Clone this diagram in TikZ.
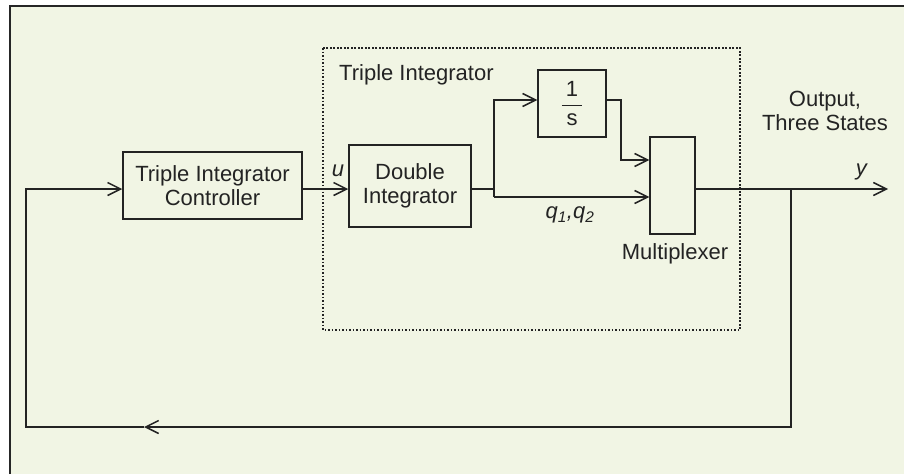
\documentclass[tikz,border=0pt]{standalone}
\usepackage{amsmath}
\usepackage{fontspec}
\setmainfont{Liberation Sans}
\usetikzlibrary{arrows.meta}
\definecolor{bgc}{RGB}{241,245,228}
\definecolor{ink}{RGB}{35,35,35}
\begin{document}
\begin{tikzpicture}[x=1pt,y=-1pt,
  font=\fontsize{22}{24.5}\selectfont,
  txt/.style={text=ink, inner sep=0pt, align=center},
  blk/.style={draw=ink, line width=1.5pt, txt},
  wire/.style={draw=ink, line width=1.5pt},
  arr/.style={wire, -{Straight Barb[length=13pt,width=13pt]}},
  grp/.style={draw=ink, line width=1.4pt, dash pattern=on 1.6pt off 1.9pt}]
\useasboundingbox (0,0) rectangle (904,474);
\fill[bgc] (10,6) rectangle (904,474);
\draw[line width=1.9pt, black!85] (10,474) -- (10,6) -- (904,6);

% group box
\draw[grp] (323,48) rectangle (740,330);
\node[txt, anchor=west] (glab) at (339,75) {Triple Integrator};

% blocks
\node[blk, minimum width=179pt, minimum height=67pt] (ctrl) at (212.5,185.5) {Triple Integrator\\Controller};
\node[blk, minimum width=122pt, minimum height=82pt] (di) at (410,186) {Double\\Integrator};
\node[blk, minimum width=68pt, minimum height=67pt] (inv) at (572,103.5) {$\genfrac{}{}{1.3pt}{0}{\mbox{\hspace{4pt}1\hspace{4pt}}}{\mbox{s}}$};
\node[blk, minimum width=45pt, minimum height=97pt] (mux) at (672.5,185.5) {};

% labels
\node[txt] (ulab) at (338,171) {\textit{u}};
\node[txt] (qlab) at (570,215) {\textit{q\textsubscript{1},q\textsubscript{2}}};
\node[txt] (mlab) at (675,254) {Multiplexer};
\node[txt] (ylab) at (862,172) {\textit{y}};
\node[txt] (olab) at (825,111) {Output,\\Three States};

% coordinates
\coordinate (br) at (494,189);
\coordinate (brTop) at (494,100);
\coordinate (brBot) at (494,197);
\coordinate (jog) at (621,100);
\coordinate (jogB) at (621,160);
\coordinate (out) at (888,189);
\coordinate (tap) at (791,189);
\coordinate (fbR) at (791,427);
\coordinate (fbMid) at (144,427);
\coordinate (fbL) at (26,427);
\coordinate (fbU) at (26,189);

% connectors
\draw[arr] (ctrl.east |- br) -- (di.west |- br);
\draw[wire] (di.east |- br) -- (br);
\draw[arr] (brBot) -- (brTop) -- (inv.west |- brTop);
\draw[arr] (brBot) -- (mux.west |- brBot);
\draw[arr] (inv.east |- jog) -- (jog) -- (jogB) -- (mux.west |- jogB);
\draw[arr] (mux.east |- br) -- (out);
\draw[arr] (tap) -- (fbR) -- (fbMid);
\draw[arr] (fbMid) -- (fbL) -- (fbU) -- (ctrl.west |- fbU);
\end{tikzpicture}
\end{document}
